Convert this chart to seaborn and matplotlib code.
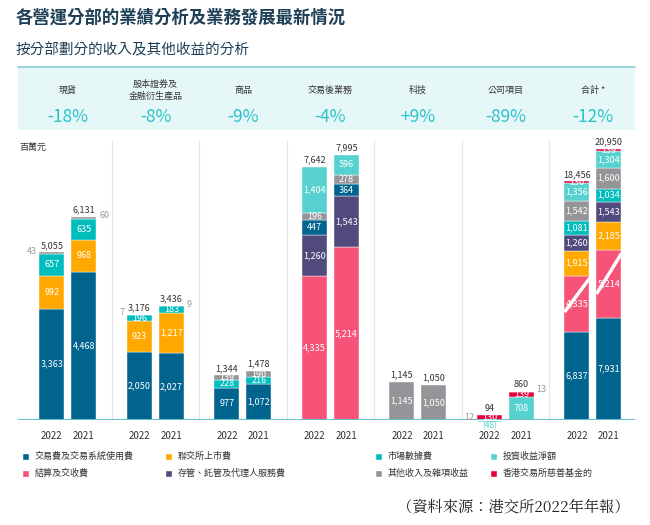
import numpy as np
import matplotlib
matplotlib.use('Agg')
import matplotlib.pyplot as plt
import seaborn as sns
from matplotlib.patches import Rectangle

sns.set_theme(style='white')
plt.rcParams['font.family'] = ['Noto Sans CJK TC', 'DejaVu Sans']

## data (百萬元), segments listed bottom to top
groups = ['現貨', '股本證券及\n金融衍生產品', '商品', '交易後業務', '科技', '公司項目', '合計 *']
changes = ['-18%', '-8%', '-9%', '-4%', '+9%', '-89%', '-12%']
years = ['2022', '2021']

cash_22 = [('trade', 3363), ('list', 992), ('mdata', 657), ('other', 43)]
cash_21 = [('trade', 4468), ('list', 968), ('mdata', 635), ('other', 60)]
deriv_22 = [('trade', 2050), ('list', 923), ('mdata', 196), ('other', 7)]
deriv_21 = [('trade', 2027), ('list', 1217), ('mdata', 183), ('other', 9)]
comm_22 = [('trade', 977), ('mdata', 228), ('other', 139)]
comm_21 = [('trade', 1072), ('mdata', 216), ('other', 190)]
post_22 = [('clear', 4335), ('depo', 1260), ('trade', 447), ('other', 196), ('invest', 1404)]
post_21 = [('clear', 5214), ('depo', 1543), ('trade', 364), ('other', 278), ('invest', 596)]
tech_22 = [('other', 1145)]
tech_21 = [('other', 1050)]
corp_22 = [('other', 12), ('charity', 130), ('invest', -48)]
corp_21 = [('invest', 708), ('charity', 139), ('other', 13)]
tot_22 = [('trade', 6837), ('clear', 4335), ('list', 1915), ('depo', 1260), ('mdata', 1081),
          ('other', 1542), ('invest', 1356), ('charity', 130)]
tot_21 = [('trade', 7931), ('clear', 5214), ('list', 2185), ('depo', 1543), ('mdata', 1034),
          ('other', 1600), ('invest', 1304), ('charity', 139)]
totals = [(5055, 6131), (3176, 3436), (1344, 1478), (7642, 7995), (1145, 1050), (94, 860), (18456, 20950)]

bars = [(cash_22, cash_21), (deriv_22, deriv_21), (comm_22, comm_21), (post_22, post_21),
        (tech_22, tech_21), (corp_22, corp_21), (tot_22, tot_21)]

colors = {'trade': '#00648f', 'list': '#ffa800', 'mdata': '#00bdbd', 'invest': '#57d1cf',
          'clear': '#f75277', 'depo': '#514b7d', 'other': '#939598', 'charity': '#e8003d'}
legend_names = [('trade', '交易費及交易系統使用費'), ('list', '聯交所上市費'),
                ('mdata', '市場數據費'), ('invest', '投資收益淨額'),
                ('clear', '結算及交收費'), ('depo', '存管、託管及代理人服務費'),
                ('other', '其他收入及雜項收益'), ('charity', '香港交易所慈善基金的')]

tot_scale = 0.39  # total column drawn on compressed scale
W, H = 650, 525
fig = plt.figure(figsize=(6.5, 5.25), dpi=100)
fig.patch.set_facecolor('white')

def fx(px): return px / W
def fy(py): return 1 - py / H

ax = fig.add_axes([fx(18), fy(420), fx(635) - fx(18), fy(140) - fy(420)])
ymax = 8450
ax.set_ylim(0, ymax)
ax.set_xlim(-0.571, 6.48)
off = 16 / 87.5
bw = 25 / 87.5

xt, xl = [], []
for gi, (b22, b21) in enumerate(bars):
    sc = tot_scale if gi == 6 else 1.0
    for bi, segs in enumerate([b22, b21]):
        x = gi + (-off if bi == 0 else off)
        xt.append(x); xl.append(years[bi])
        bottom = 0
        for cat, v in segs:
            if v < 0:
                ax.bar(x, v * sc, bottom=0, width=bw, color=colors[cat], clip_on=False)
                ax.text(x, -20, '(%d)' % -v, ha='center', va='top', fontsize=6,
                        color=colors[cat], clip_on=False)
                continue
            h = v * sc
            ax.bar(x, h, bottom=bottom, width=bw, color=colors[cat], edgecolor='white', linewidth=0.3)
            if cat == 'other' and v < 100:
                side = -1 if bi == 0 else 1
                ax.text(x + side * (bw / 2 + 0.03), bottom + h / 2 + 60, '%d' % v,
                        ha='right' if side < 0 else 'left', va='center', fontsize=6.5, color='#9a9a9a')
            else:
                ax.text(x, bottom + h / 2, '{:,}'.format(v), ha='center', va='center',
                        fontsize=6.5, color='white')
            if gi == 6 and cat == 'clear':
                ax.plot([x - bw / 2, x + bw / 2], [bottom + h * 0.35, bottom + h * 0.95],
                        color='white', lw=2.5, solid_capstyle='butt')
            bottom += h
        ax.text(x, bottom + 80, '{:,}'.format(totals[gi][bi]), ha='center', va='bottom',
                fontsize=6.5, color='#333333')

for s in np.arange(0.5, 6, 1):
    ax.axvline(s, color='#e6e6e6', lw=0.8, zorder=0)
ax.axhline(0, color='#6bbfc9', lw=1.5)
ax.set_xticks(xt)
ax.set_xticklabels(xl, fontsize=7, color='#333333')
ax.tick_params(axis='x', length=0, pad=8)
ax.set_yticks([])
sns.despine(ax=ax, left=True, bottom=True)
ax.text(-0.55, ymax * 0.99, '百萬元', fontsize=6.5, color='#333333', va='top')

# header band
fig.patches.append(Rectangle((fx(18), fy(130)), fx(635) - fx(18), fy(67) - fy(130),
                             transform=fig.transFigure, facecolor='#e6f7f8', edgecolor='none'))
fig.add_artist(plt.Line2D([fx(18), fx(635)], [fy(67), fy(67)], color='#8ccdd5', lw=1.2))
fig.text(fx(16), fy(18), '各營運分部的業績分析及業務發展最新情況', fontsize=12.5,
         fontweight='bold', color='#1e3f55', va='center')
fig.text(fx(16), fy(50), '按分部劃分的收入及其他收益的分析', fontsize=10.5,
         color='#1e3f55', va='center')
for gi in range(7):
    cx = fx(68 + 87.5 * gi)
    fig.text(cx, fy(90), groups[gi], ha='center', va='center', fontsize=6.5,
             color='#333333', linespacing=1.4)
    fig.text(cx, fy(117), changes[gi], ha='center', va='center', fontsize=12.5, color='#2cc3c8')

# legend
lx = [22, 165, 375, 490]
for i, (cat, name) in enumerate(legend_names):
    px = lx[i % 4]
    py = 456 if i < 4 else 473
    fig.patches.append(Rectangle((fx(px), fy(py + 3.5)), fx(7), fy(0) - fy(7),
                                 transform=fig.transFigure, facecolor=colors[cat]))
    fig.text(fx(px + 13), fy(py), name, fontsize=6.5, color='#333333', va='center')

fig.text(fx(630), fy(508), '（資料來源：港交所2022年年報）', ha='right', va='center',
         fontsize=11, color='#222222', family=['Noto Serif CJK TC', 'Noto Sans CJK TC', 'DejaVu Sans'])

fig.savefig('out.png', dpi=100)
